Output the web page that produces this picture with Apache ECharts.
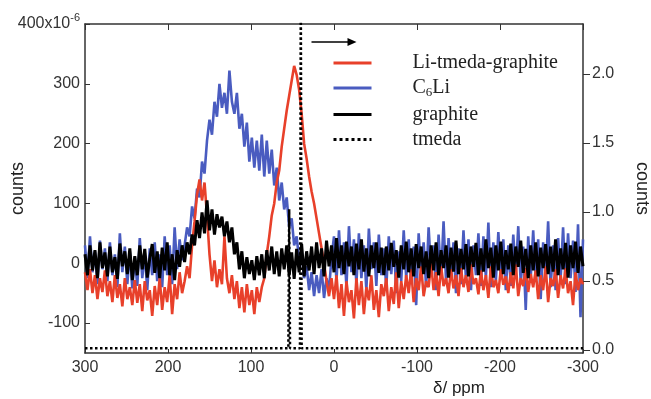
<!DOCTYPE html>
<html><head><meta charset="utf-8">
<script src="https://cdn.jsdelivr.net/npm/echarts@6/dist/echarts.min.js"></script>
<style>html,body{margin:0;padding:0;background:#fff}#c{width:651px;height:399px}</style>
</head><body><div id="c"></div>
<script>
// chemical shift grid (ppm), 300 down to -300 in 3 ppm steps
const ppmStart = 300, ppmStep = 3, nPts = 201;
const xTicks = [300, 200, 100, 0, -100, -200, -300];
const leftTicks = [-100, 0, 100, 200, 300, 400];
const rightTicks = [0, 0.5, 1.0, 1.5, 2.0];
const seriesNames = ['Li-tmeda-graphite', 'C6Li', 'graphite', 'tmeda'];

// counts (x10^-6), read row by row, 10 points (30 ppm) per row
const liTmedaGraphite = [
 -15,-45,-10,-50,-20,-60,-25,-48,-12,-55,
 -30,-65,-20,-58,-35,-72,-25,-60,-40,-70,
 -28,-66,-35,-80,-30,-62,-45,-88,-38,-70,
 -25,-78,-40,-65,-20,-85,-35,-60,-15,-50,
 -30,-5,-25,30,70,115,140,105,135,80,
 15,-30,5,-40,-10,-35,45,-25,-50,-20,
 -60,-30,-75,-40,-82,-35,-70,-45,-85,-40,
 -65,-40,-25,15,45,80,100,135,155,195,
 225,255,280,305,330,315,290,250,200,175,
 145,120,100,75,50,25,0,-30,-55,-25,
 -60,-20,-75,-35,-88,-30,-65,-45,-92,-25,
 -70,-30,-85,-40,-62,-20,-78,-45,-90,-35,
 -55,-25,-80,-40,-68,-15,-75,-30,-60,-20,
 -50,-10,-65,-25,-45,-5,-55,-30,-40,0,
 -45,-15,-55,-5,-38,-25,-50,-10,-42,-20,
 -55,-8,-40,-20,-48,-2,-35,-25,-52,-12,
 -45,-20,-58,-5,-40,-28,-50,-10,-36,-22,
 -50,-15,-42,-2,-55,-25,-38,-8,-48,-18,
 -40,-12,-60,-20,-45,-5,-65,-25,-38,-10,
 -58,-20,-42,-8,-50,-30,-70,-15,-45,-25,
 -35
];
const c6li = [
 30,-25,45,-15,20,-35,38,-10,25,-30,
 35,-20,15,-40,50,-15,28,-35,20,-42,
 10,-38,42,-25,18,-45,25,-20,35,-30,
 15,-40,45,-20,30,-35,60,-10,40,5,
 30,60,45,95,75,125,110,170,150,205,
 240,215,270,245,300,260,285,250,322,270,
 250,285,225,250,195,235,170,210,160,205,
 155,215,145,205,150,190,130,160,105,135,
 90,110,60,75,30,45,5,20,-25,-5,
 -45,-15,-55,-20,-50,-10,-58,-25,-45,10,
 45,-30,55,-20,35,-40,62,-15,40,-35,
 50,-25,30,-45,58,-10,35,-38,48,-20,
 25,-42,45,-18,38,-50,20,-30,55,-25,
 40,-35,28,-70,50,-20,35,-40,60,-15,
 30,-45,48,-25,70,-30,42,-20,35,-50,
 25,-35,55,-28,40,-45,30,-20,50,-38,
 45,-25,68,-40,35,-30,52,-22,40,-45,
 30,-38,48,-20,62,-35,28,-78,45,-25,
 55,-30,40,-60,35,-22,70,-40,30,-45,
 42,-28,60,-35,50,-25,38,-48,65,-90,
 40
];
const graphite = [
 15,-20,30,-12,22,-25,35,-8,18,-22,
 28,-15,10,-26,33,-5,20,-18,25,-28,
 12,-20,30,-10,24,-24,8,32,-16,20,
 -25,26,-12,35,-20,15,-28,22,-6,30,
 2,35,15,48,30,72,42,85,50,105,
 55,90,48,82,60,78,45,70,35,60,
 15,35,-10,20,-25,10,-18,5,-28,12,
 -20,15,-25,22,-12,28,-18,20,-22,25,
 -10,30,-20,18,-26,24,-15,32,-22,20,
 -12,28,-18,35,-8,25,-22,38,-5,30,
 -15,42,-8,30,-18,36,-5,28,-20,33,
 -10,40,-14,25,-22,30,-8,35,-16,26,
 -20,28,-12,34,-6,22,-24,30,-10,36,
 -15,25,-22,32,-8,28,-18,20,-25,30,
 -12,35,-20,22,-8,30,-24,26,-14,38,
 -18,24,-10,32,-22,28,-6,34,-20,25,
 -14,40,-8,26,-24,30,-12,36,-18,22,
 -10,33,-20,28,-6,38,-16,24,-25,30,
 -12,35,-22,26,-8,32,-18,28,-14,40,
 -20,25,-10,34,-24,30,-8,36,-16,28,
 -5
];
// tmeda (right axis counts)
const tmedaPpm = [300, 55, 54, 53, 41, 40, 39, -300];
const tmedaVal = [0.012, 0.012, 1.02, 0.012, 0.012, 2.6, 0.012, 0.012];

const ppm = [];
for (let i = 0; i < nPts; i++) ppm.push(ppmStart - i * ppmStep);
const pairs = (vals) => vals.map((v, i) => [ppm[i], v]);

const RED = '#e8402a', BLUE = '#4a5cc0', BLACK = '#000';
const AX = '#333';
const SANS = 'Liberation Sans, Arial, sans-serif';
const SERIF = 'Liberation Serif, Times New Roman, serif';
const chart = echarts.init(document.getElementById('c'), null, {renderer: 'canvas'});
const lab = {fontFamily: SANS, fontSize: 16, color: '#333'};

chart.setOption({
  animation: false,
  backgroundColor: '#fff',
  grid: {left: 85, right: 68, top: 24, bottom: 46, containLabel: false, outerBoundsMode: 'none'},
  legend: {
    orient: 'vertical', left: 332, top: 53, padding: 0,
    itemWidth: 38, itemHeight: 12, itemGap: 5,
    data: seriesNames.map(n => ({name: n, itemStyle: {opacity: 0},
      lineStyle: {width: 3, type: n === 'tmeda' ? 'dotted' : 'solid'}})),
    formatter: n => n === 'C6Li' ? '{n|C}{s|6}{n|Li}' : '{n|' + n + '}',
    textStyle: {
      padding: [0, 0, 0, 36],
      rich: {
        n: {fontFamily: SERIF, fontSize: 20, color: '#222', lineHeight: 20},
        s: {fontFamily: SERIF, fontSize: 13, color: '#222', padding: [10, 0, 0, 0]}
      }
    }
  },
  xAxis: [{
    type: 'value', inverse: true, min: -300, max: 300, interval: 100,
    name: 'δ/ ppm', nameLocation: 'middle', nameGap: 27, nameMoveOverlap: false,
    nameTextStyle: {fontFamily: SANS, fontSize: 17, color: '#222', padding: [0, 0, 0, 250]},
    axisLine: {onZero: false, lineStyle: {color: AX, width: 1.5}},
    axisTick: {inside: true, length: 4, lineStyle: {color: AX}},
    axisLabel: Object.assign({margin: 7, formatter: v => String(v)}, lab),
    splitLine: {show: false}
  }, {
    type: 'value', inverse: true, min: -300, max: 300, interval: 100, position: 'top',
    axisLine: {onZero: false, lineStyle: {color: AX, width: 1.5}},
    axisTick: {inside: true, length: 6, lineStyle: {color: AX}},
    axisLabel: {show: false}, splitLine: {show: false}
  }],
  yAxis: [{
    type: 'value', min: -150, max: 400,
    name: 'counts', nameLocation: 'middle', nameGap: 58, nameRotate: 90, nameMoveOverlap: false,
    nameTextStyle: {fontFamily: SANS, fontSize: 18, color: '#222'},
    axisLine: {show: true, onZero: false, lineStyle: {color: AX, width: 1.5}},
    axisTick: {show: true, inside: true, length: 5, customValues: leftTicks, lineStyle: {color: AX}},
    axisLabel: {
      margin: 5, customValues: leftTicks,
      formatter: v => v === 400 ? '{b|400x10}{sup|-6}' : '{b|' + v + '}',
      rich: {
        b: {fontFamily: SANS, fontSize: 16, color: '#333'},
        sup: {fontFamily: SANS, fontSize: 11, color: '#333', padding: [0, 0, 12, 0]}
      }
    },
    splitLine: {show: false}
  }, {
    type: 'value', min: -0.022, max: 2.362, position: 'right',
    name: 'counts', nameLocation: 'middle', nameGap: 50, nameRotate: -90, nameMoveOverlap: false,
    nameTextStyle: {fontFamily: SANS, fontSize: 18, color: '#222'},
    axisLine: {show: true, onZero: false, lineStyle: {color: AX, width: 1.5}},
    axisTick: {show: true, inside: false, length: 7, customValues: rightTicks, lineStyle: {color: AX}},
    axisLabel: Object.assign({margin: 9, customValues: rightTicks, formatter: v => v.toFixed(1)}, lab),
    splitLine: {show: false}
  }],
  series: [
    {name: 'C6Li', type: 'line', data: pairs(c6li), showSymbol: false, symbol: 'none', z: 2,
     lineStyle: {color: BLUE, width: 2.6}, itemStyle: {color: BLUE}},
    {name: 'Li-tmeda-graphite', type: 'line', data: pairs(liTmedaGraphite), showSymbol: false, symbol: 'none', z: 3,
     lineStyle: {color: RED, width: 2.6}, itemStyle: {color: RED}},
    {name: 'graphite', type: 'line', data: pairs(graphite), showSymbol: false, symbol: 'none', z: 4,
     lineStyle: {color: BLACK, width: 3}, itemStyle: {color: BLACK}},
    {name: 'tmeda', type: 'line', yAxisIndex: 1, data: tmedaPpm.map((p, i) => [p, tmedaVal[i]]), showSymbol: false, symbol: 'none', z: 5,
     lineStyle: {color: BLACK, width: 2.5, type: 'dotted'}, itemStyle: {color: BLACK}}
  ],
  graphic: [{
    type: 'group', left: 309, top: 38,
    children: [
      {type: 'line', shape: {x1: 0, y1: 4, x2: 38, y2: 4}, style: {stroke: '#000', lineWidth: 1.5}},
      {type: 'polygon', shape: {points: [[36, 0], [45, 4], [36, 8]]}, style: {fill: '#000'}}
    ]
  }]
});
</script></body></html>
